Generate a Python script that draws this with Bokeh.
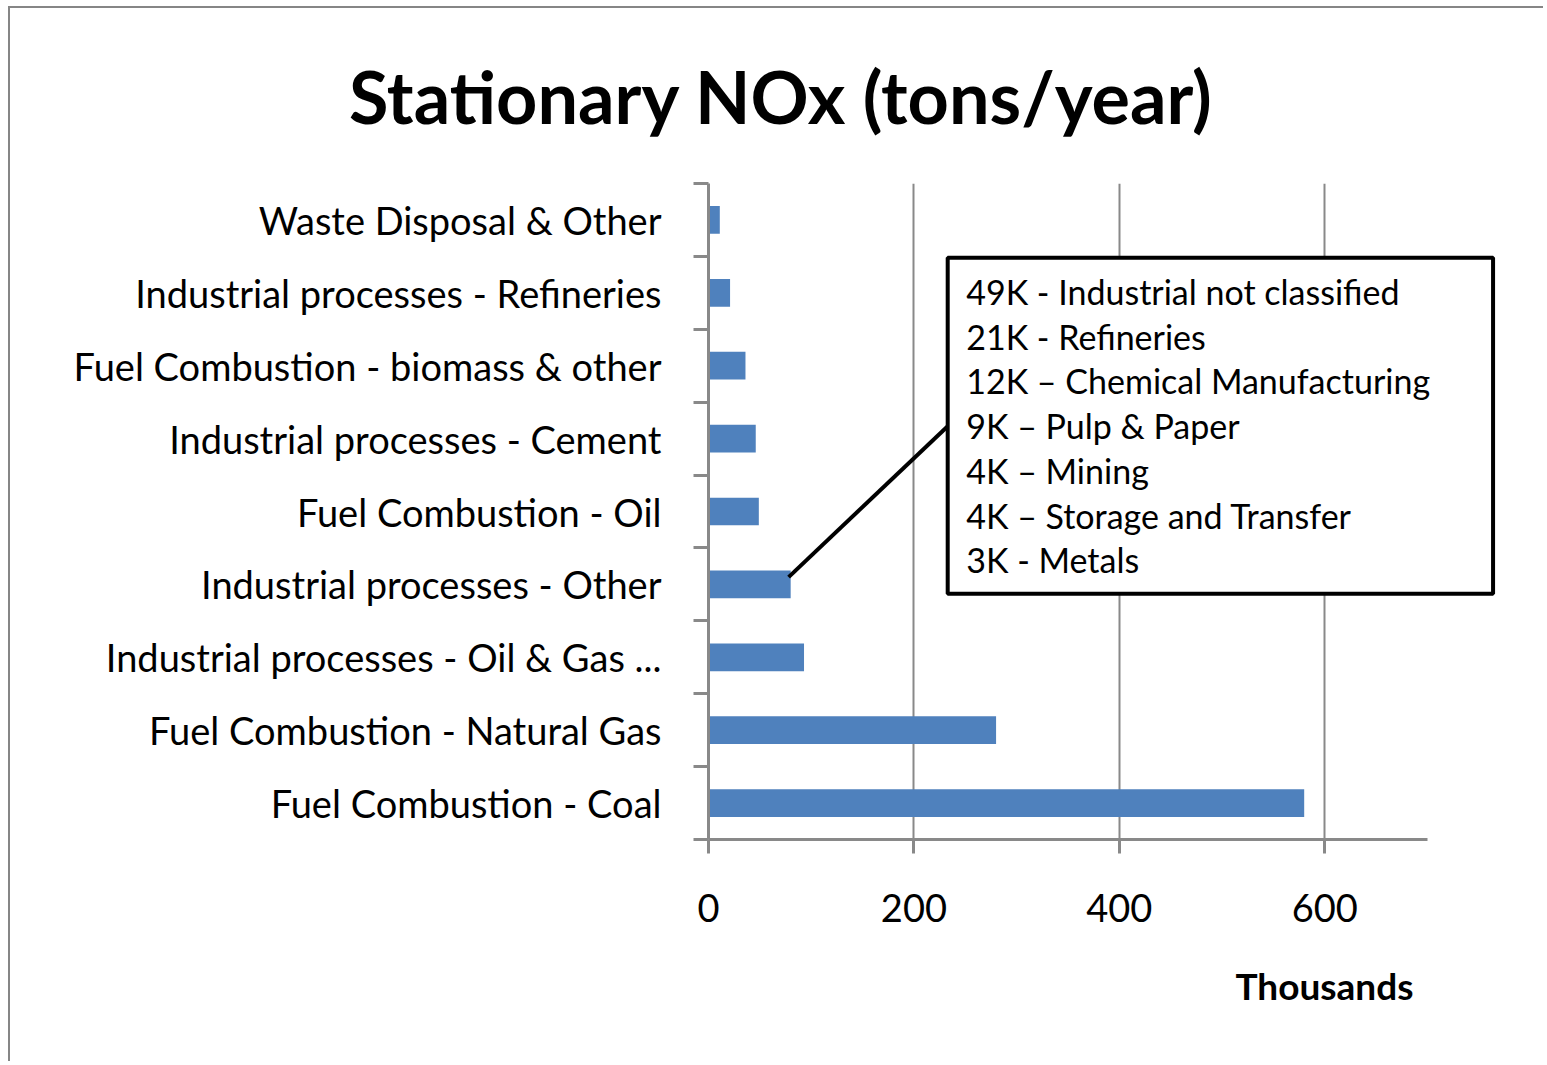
from bokeh.plotting import figure
from bokeh.models import FixedTicker, Title, Range1d
from bokeh.core.properties import value
from bokeh.embed import file_html
from bokeh.resources import INLINE

# ---- data (bottom to top, as drawn) ----
categories = [
    "Fuel Combustion - Coal",
    "Fuel Combustion - Natural Gas",
    "Industrial processes - Oil & Gas ...",
    "Industrial processes - Other",
    "Fuel Combustion - Oil",
    "Industrial processes - Cement",
    "Fuel Combustion - biomass & other",
    "Industrial processes - Refineries",
    "Waste Disposal & Other",
]
emissions_thousand_tons = [580, 280, 93, 80, 49, 46, 36, 21, 11]
x_ticks = [0, 200, 400, 600]
x_axis_max = 700
callout_category = "Industrial processes - Other"
callout_lines = [
    "49K - Industrial not classified",
    "21K - Refineries",
    "12K \u2013 Chemical Manufacturing",
    "9K \u2013 Pulp & Paper",
    "4K \u2013 Mining",
    "4K \u2013 Storage and Transfer",
    "3K - Metals",
]
chart_title = "Stationary NOx (tons/year)"

FONT = "Lato"
GRAY = "#898989"
BAR = "#4F81BD"

positions = [i + 0.5 for i in range(len(categories))]

p = figure(
    width=1535, height=1055,
    x_range=Range1d(0, 798.4), y_range=Range1d(0, len(categories)),
    output_backend="svg", toolbar_location=None,
    min_border_left=698, min_border_right=17, min_border_top=175, min_border_bottom=224,
    outline_line_color=None, background_fill_color="white", border_fill_color="white",
    styles={"border-left": "2px solid #868686", "border-top": "2px solid #868686",
            "margin-left": "8px", "margin-top": "6px"},
)

# title
p.title.text = chart_title
p.title.align = "right"
p.title.offset = 315
p.title.vertical_align = "top"
p.title.standoff = 85
p.title.text_font = FONT
p.title.text_font_size = "72px"
p.title.text_font_style = "bold"
p.title.text_color = "black"

# x axis
xa = p.xaxis[0]
xa.ticker = FixedTicker(ticks=x_ticks, minor_ticks=[])
xa.bounds = (0, x_axis_max)
xa.axis_line_color = GRAY
xa.axis_line_width = 3
xa.major_tick_line_color = GRAY
xa.major_tick_line_width = 3
xa.major_tick_in = 0
xa.major_tick_out = 14
xa.minor_tick_line_color = None
xa.major_label_text_font = FONT
xa.major_label_text_font_size = "38px"
xa.major_label_text_color = "black"
xa.major_label_standoff = 40

# y axis (ticks between categories, labels at centres)
ya = p.yaxis[0]
ya.ticker = FixedTicker(ticks=positions, minor_ticks=list(range(len(categories) + 1)))
ya.major_label_overrides = {pos: cat for pos, cat in zip(positions, categories)}
ya.axis_line_color = GRAY
ya.axis_line_width = 3
ya.major_tick_line_color = None
ya.major_tick_in = 0
ya.major_tick_out = 0
ya.minor_tick_line_color = GRAY
ya.minor_tick_line_width = 3
ya.minor_tick_in = 0
ya.minor_tick_out = 15
ya.major_label_text_font = FONT
ya.major_label_text_font_size = "38px"
ya.major_label_text_color = "black"
ya.major_label_standoff = 32

# grid
p.xgrid.ticker = FixedTicker(ticks=[t for t in x_ticks if t > 0])
p.xgrid.grid_line_color = GRAY
p.xgrid.grid_line_width = 2
p.ygrid.grid_line_color = None

# bars
p.hbar(y=positions, right=emissions_thousand_tons, left=0, height=0.38,
       fill_color=BAR, line_color=None)

# callout
ci = categories.index(callout_category)
box_left, box_right, box_top, box_bottom = 232.9, 763.9, 7.98, 3.37
p.segment(x0=[emissions_thousand_tons[ci] - 2], y0=[positions[ci] + 0.1],
          x1=[box_left], y1=[5.67], line_color="black", line_width=4)
p.quad(left=[box_left], right=[box_right], top=[box_top], bottom=[box_bottom],
       fill_color="white", line_color="black", line_width=4)
line_step = 0.614
p.text(x=[box_left + 18] * len(callout_lines),
       y=[7.52 - i * line_step for i in range(len(callout_lines))],
       text=callout_lines, text_font=value(FONT), text_font_size="34px",
       text_baseline="middle", text_align="left", text_color="black")

# axis title
p.add_layout(Title(text="Thousands", align="right", text_font=FONT, text_font_size="37px",
                   text_font_style="bold", text_color="black", offset=115, standoff=72), "below")

open("out.html", "w").write(file_html(p, INLINE))
